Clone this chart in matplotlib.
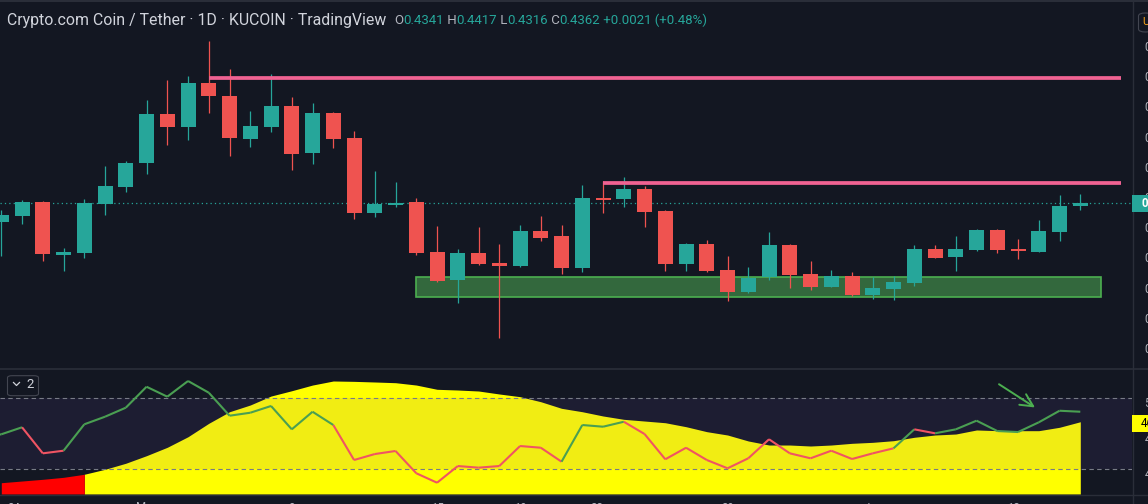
import matplotlib
matplotlib.use('Agg')
import matplotlib.pyplot as plt
from matplotlib.patches import Rectangle, FancyBboxPatch
from matplotlib.collections import LineCollection

W, H = 1148, 504
BG = '#131722'
UP = '#26a69a'
DOWN = '#ef5350'
GRID = '#2a2e39'
LABEL = '#b2b5be'

# daily candles, CRO/USDT
opens = [0.4236, 0.4276, 0.4367, 0.4018, 0.4031, 0.4356, 0.4468, 0.4627, 0.4950, 0.4866,
         0.5155, 0.5069, 0.4786, 0.4866, 0.5000, 0.4693, 0.4956, 0.4791, 0.4296, 0.4349,
         0.4367, 0.4036, 0.3852, 0.4029, 0.3963, 0.3945, 0.4175, 0.4142, 0.3932, 0.4393,
         0.4389, 0.4453, 0.4307, 0.3958, 0.4089, 0.3917, 0.3773, 0.3868, 0.4082, 0.3890,
         0.3806, 0.3877, 0.3751, 0.3793, 0.3832, 0.4056, 0.4005, 0.4051, 0.4181, 0.4056,
         0.4038, 0.4170, 0.4341]
highs = [0.4314, 0.4380, 0.4374, 0.4062, 0.4387, 0.4605, 0.4638, 0.5042, 0.5175, 0.5201,
         0.5433, 0.5248, 0.4970, 0.5215, 0.5062, 0.5023, 0.4963, 0.4837, 0.4572, 0.4499,
         0.4393, 0.4208, 0.4056, 0.4201, 0.4089, 0.4215, 0.4274, 0.4215, 0.4479, 0.4506,
         0.4532, 0.4473, 0.4314, 0.4095, 0.4115, 0.4009, 0.3936, 0.4168, 0.4089, 0.3976,
         0.3917, 0.3903, 0.3870, 0.3877, 0.4082, 0.4082, 0.4142, 0.4188, 0.4188, 0.4122,
         0.4248, 0.4413, 0.4417]
lows = [0.4011, 0.4223, 0.3978, 0.3912, 0.3998, 0.4283, 0.4435, 0.4554, 0.4746, 0.4779,
        0.4958, 0.4674, 0.4733, 0.4832, 0.4581, 0.4621, 0.4726, 0.4256, 0.4270, 0.4336,
        0.4018, 0.3839, 0.3700, 0.3950, 0.3468, 0.3938, 0.4111, 0.3892, 0.3905, 0.4296,
        0.4336, 0.4203, 0.3912, 0.3912, 0.3905, 0.3713, 0.3766, 0.3852, 0.3799, 0.3786,
        0.3804, 0.3744, 0.3727, 0.3720, 0.3813, 0.3996, 0.3912, 0.4044, 0.4031, 0.3991,
        0.4036, 0.4111, 0.4316]
closes = [0.4281, 0.4367, 0.4025, 0.4036, 0.4360, 0.4473, 0.4625, 0.4950, 0.4866, 0.5155,
          0.5071, 0.4793, 0.4870, 0.5000, 0.4687, 0.4956, 0.4786, 0.4296, 0.4356, 0.4360,
          0.4031, 0.3846, 0.4029, 0.3958, 0.3945, 0.4175, 0.4130, 0.3932, 0.4393, 0.4382,
          0.4453, 0.4303, 0.3958, 0.4089, 0.3912, 0.3773, 0.3866, 0.4082, 0.3885, 0.3806,
          0.3877, 0.3751, 0.3797, 0.3837, 0.4056, 0.3998, 0.4056, 0.4181, 0.4051, 0.4044,
          0.4175, 0.4340, 0.4362]

# indicator pane
osc = [44.93, 45.92, 42.25, 42.62, 46.34, 47.41, 48.68, 51.63, 50.23, 52.44,
       50.79, 47.55, 47.97, 48.92, 45.63, 48.11, 46.24, 41.31, 42.15, 42.58,
       39.44, 38.11, 40.46, 40.23, 40.46, 43.28, 43.04, 41.07, 46.24, 46.00,
       46.70, 44.97, 41.41, 43.04, 41.31, 40.14, 41.55, 44.23, 42.25, 41.55,
       42.62, 41.45, 42.25, 42.96, 45.63, 45.07, 45.63, 46.85, 45.39, 45.25,
       46.62, 48.25, 48.11]
osc_up = [1, 1, 0, 0, 1, 1, 1, 1, 1, 1, 1, 1, 1, 1, 1, 1, 1, 0, 0, 0,
          0, 0, 0, 0, 0, 0, 0, 0, 1, 1, 1, 0, 0, 0, 0, 0, 0, 0, 0, 0,
          0, 0, 0, 0, 1, 0, 1, 1, 1, 1, 1, 1, 1]
area = [38.11, 38.35, 38.59, 38.87, 39.30, 40.00, 40.85, 41.92, 43.10, 44.59,
        46.48, 48.11, 49.06, 50.32, 51.07, 51.87, 52.44, 52.39, 52.30, 52.20,
        51.87, 51.27, 51.17, 51.03, 50.61, 50.23, 49.52, 48.59, 48.11, 47.51,
        47.04, 46.80, 46.56, 46.00, 45.30, 44.83, 43.99, 43.42, 43.42, 43.28,
        43.42, 43.66, 43.80, 44.03, 44.51, 44.83, 44.97, 45.54, 45.44, 45.44,
        45.44, 45.92, 46.70]
area_red_until = 4
band = [40, 50]

# drawings
levels = [0.5189, 0.4493]
level_start = [10, 29]
level_end = 53.95
zone_x = [20, 52.98]
zone_y = [0.3740, 0.3868]
arrow_from = (47.97, 52.2)
arrow_to = (49.93, 48.5)

price_ticks = [0.54, 0.52, 0.50, 0.48, 0.46, 0.44, 0.42, 0.40, 0.38, 0.36, 0.34]
osc_ticks = [49.5, 44.4, 39.5]
osc_tick_labels = ['50', '45', '40']
date_pos = [0.6, 7, 14, 21, 25, 28.7, 35, 42, 48.8]
date_labels = ['24', 'May', '8', '15', '19', '22', '29', 'Jun', '12']

title = 'Crypto.com Coin / Tether · 1D · KUCOIN · TradingView'

# pixel scale of the chart
STEP = 20.75
X0 = 1.3


def box(x0, y0, x1, y1):
    return [x0 / W, 1 - y1 / H, (x1 - x0) / W, (y1 - y0) / H]


def xi(px):
    return (px - X0) / STEP


plt.rcParams['font.family'] = ['Roboto', 'DejaVu Sans']
fig = plt.figure(figsize=(W / 100, H / 100), dpi=100, facecolor=BG)
r = fig.canvas.get_renderer()

ax = fig.add_axes(box(0, 0, 1132, 368), facecolor=BG)
ax2 = fig.add_axes(box(0, 370, 1132, 494), facecolor=BG)
for a in (ax, ax2):
    a.set_xlim(xi(0), xi(1132))
    for s in a.spines.values():
        s.set_visible(False)
    a.set_xticks([])
    a.yaxis.tick_right()
    a.tick_params(axis='y', length=0, pad=9, labelsize=8.3, labelcolor=LABEL)

ax.set_ylim(0.32676, 0.57046)
ax.set_yticks(price_ticks)
ax.set_yticklabels(['%.2f' % t for t in price_ticks])

n = len(closes)
xs = list(range(n))
cols = [UP if c >= o else DOWN for o, c in zip(opens, closes)]

# candles
ax.vlines(xs, lows, highs, colors=cols, lw=0.9, zorder=3)
heights = [max(c - o, 0.0011) if c >= o else min(c - o, -0.0011) for o, c in zip(opens, closes)]
ax.bar(xs, heights, bottom=opens, width=15 / STEP, color=cols, zorder=4, linewidth=0)

ax.axhline(closes[-1], color=UP, lw=0.9, ls=(0, (1, 2.5)), zorder=2)
for lv, st in zip(levels, level_start):
    ax.hlines(lv, st, level_end, color='#f06292', lw=2.7, zorder=5)
ax.add_patch(Rectangle((zone_x[0], zone_y[0]), zone_x[1] - zone_x[0], zone_y[1] - zone_y[0],
                       facecolor='#33683d', edgecolor='#4caf50', lw=1.2, zorder=2))

# indicator pane
ax2.set_ylim(36.52, 53.99)
ax2.set_yticks(osc_ticks)
ax2.set_yticklabels(osc_tick_labels)
base = 36.52
k = area_red_until
ax2.fill_between(xs[k:], area[k:], base, color='#ffff00', lw=0, zorder=1)
ax2.fill_between(xs[:k + 1], area[:k + 1], base, color='#ff0000', lw=0, zorder=1)
ax2.axhspan(band[0], band[1], color=(126 / 255, 87 / 255, 194 / 255), alpha=0.1, lw=0, zorder=2)
for b in band:
    ax2.axhline(b, color='#787b86', lw=0.8, ls=(0, (4, 3)), zorder=3)

segs = [[(xs[i - 1], osc[i - 1]), (xs[i], osc[i])] for i in range(1, n)]
seg_cols = ['#4a9f52' if osc_up[i] else '#f05463' for i in range(1, n)]
segs = [[(xi(0) - 1, osc[0] - 0.5), (0, osc[0])]] + segs
seg_cols = ['#4a9f52'] + seg_cols
ax2.add_collection(LineCollection(segs, colors=seg_cols, linewidths=1.5, zorder=4))

ax2.annotate('', xy=arrow_to, xytext=arrow_from,
             arrowprops=dict(arrowstyle='->,head_length=0.9,head_width=0.45',
                             color='#4caf50', lw=1.4), zorder=5)

# separators
fig.add_artist(plt.Line2D([1132.5 / W] * 2, [0, 1], color=GRID, lw=1))
fig.add_artist(plt.Line2D([0, 1], [1 - 369 / H] * 2, color=GRID, lw=1.2))
fig.add_artist(plt.Line2D([0, 1], [1 - 494.5 / H] * 2, color=GRID, lw=1))
fig.add_artist(plt.Line2D([0, 1], [1 - 0.8 / H] * 2, color=GRID, lw=1.5))

# last value badges on the scales
fig.add_artist(Rectangle((1132 / W, 1 - 212 / H), 16 / W, 17 / H, transform=fig.transFigure,
                         facecolor=UP, lw=0, zorder=3))
fig.text(1141 / W, 1 - 203.5 / H, '%.4f' % closes[-1], color='white', fontsize=8.3,
         va='center', fontweight='bold', zorder=4)
fig.add_artist(Rectangle((1132 / W, 1 - 431.7 / H), 16 / W, 16.7 / H, transform=fig.transFigure,
                         facecolor='#ffff00', lw=0, zorder=3))
fig.text(1141 / W, 1 - 423.5 / H, '%.2f' % area[-1], color='black', fontsize=8.3, va='center',
         zorder=4)

fig.add_artist(FancyBboxPatch((1138.5 / W, 1 - 32 / H), 14 / W, 19 / H, transform=fig.transFigure,
                              boxstyle='round,pad=0,rounding_size=0.006', facecolor=BG,
                              edgecolor='#434651', lw=0.8))
fig.text(1142 / W, 1 - 22 / H, 'U', color='#f7a21b', fontsize=8, va='center')

# pane legend box
fig.add_artist(FancyBboxPatch((7.5 / W, 1 - 395.7 / H), 31 / W, 20 / H, transform=fig.transFigure,
                              boxstyle='round,pad=0,rounding_size=0.004', facecolor=BG,
                              edgecolor='#434651', lw=0.8))
fig.add_artist(plt.Line2D([13.5 / W, 16.5 / W, 19.5 / W], [1 - 382.5 / H, 1 - 385.5 / H, 1 - 382.5 / H],
                          color='#d1d4dc', lw=0.9))
fig.text(26.5 / W, 1 - 385 / H, '2', color='#d1d4dc', fontsize=9.5, va='center')

# date labels, mostly below the image edge
for p, lab in zip(date_pos, date_labels):
    fig.text((X0 + p * STEP) / W, 1 - 501.5 / H, lab, color=LABEL, fontsize=8.3,
             ha='center', va='top')

# header line
t = fig.text(7 / W, 1 - 20.5 / H, title, color='#d1d4dc', fontsize=10, va='center')
t.set_fontsize(10 * 378 / t.get_window_extent(r).width)

parts = [('O', LABEL), ('0.4341', UP), (' H', LABEL), ('0.4417', UP), (' L', LABEL),
         ('0.4316', UP), (' C', LABEL), ('0.4362', UP), (' +0.0021 (+0.48%)', UP)]
tmp = fig.text(0, 0, ''.join(p[0] for p in parts), fontsize=10)
fs = 10 * 314 / tmp.get_window_extent(r).width
tmp.remove()
x = 394.0
for s, c in parts:
    tt = fig.text(x / W, 1 - 20.5 / H, s, color=c, fontsize=fs, va='center')
    x += tt.get_window_extent(r).width

fig.savefig('out.png', dpi=100, facecolor=BG)
